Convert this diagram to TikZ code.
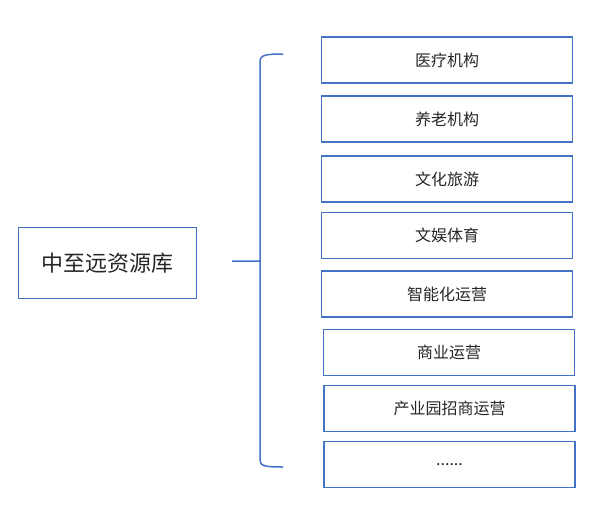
\documentclass[tikz,border=0pt]{standalone}
\usepackage{fontspec}
\newfontfamily\cjk{Noto Sans CJK SC}
\usepackage{xcolor}
\definecolor{cMain}{HTML}{4472C4}
\definecolor{cText}{HTML}{262626}
\usetikzlibrary{positioning,calc}
\tikzset{
  node-root/.style={draw=cMain,line width=1.5pt,minimum width=178pt,
    minimum height=71pt,inner sep=0pt,font=\cjk\fontsize{22}{25}\selectfont,text=cText},
  node-item/.style={draw=cMain,line width=1.5pt,minimum width=251pt,
    minimum height=46pt,inner sep=0pt,font=\cjk\fontsize{16}{19}\selectfont,text=cText},
  brace-line/.style={draw=cMain,line width=1.5pt,line join=round},
}
\begin{document}
\begin{tikzpicture}[x=1pt,y=-1pt]
  \useasboundingbox (0,0) rectangle (600,504);
  \node[node-root] (root) at (107.5,263) {中至远资源库};
  % 右侧分类
  \node[node-item] (med)  at (447,60)    {医疗机构};
  \node[node-item] (old)  at (447,119)   {养老机构};
  \node[node-item] (tour) at (447,179)   {文化旅游};
  \node[node-item] (ent)  at (447,235.5) {文娱体育};
  \node[node-item] (smt)  at (447,294)   {智能化运营};
  \node[node-item] (biz)  at (449,352.5) {商业运营};
  \node[node-item] (park) at (449.5,408.5) {产业园招商运营};
  \node[node-item] (more) at (449.5,464.5) {......};
  % 大括号
  \coordinate (bTop) at (283,54);
  \coordinate (bTip) at (232,261);
  \coordinate (bBot) at (283,467);
  \draw[brace-line] (bTop) .. controls (265,54) and (260,55) .. (260,62)
    -- (260,256) .. controls (260,259) .. ($(bTip)+(28,0)$) -- (bTip);
  \draw[brace-line] ($(bTip)+(28,0)$) .. controls (260,263) .. (260,266)
    -- (260,460) .. controls (260,466) and (265,467) .. (bBot);
\end{tikzpicture}
\end{document}
